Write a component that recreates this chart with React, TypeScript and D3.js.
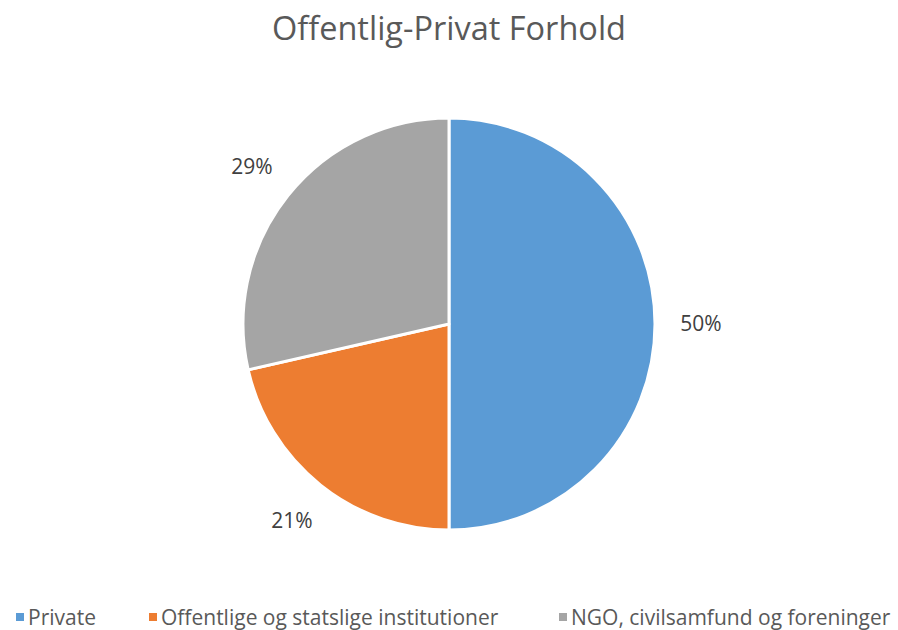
import React, { useEffect, useRef } from 'react';
import * as d3 from 'd3';

const WIDTH = 898;
const HEIGHT = 630;

const TITLE = 'Offentlig-Privat Forhold';
const categories = ['Private', 'Offentlige og statslige institutioner', 'NGO, civilsamfund og foreninger'];
const values = [7, 3, 4];
const colors = ['#5B9BD5', '#ED7D31', '#A5A5A5'];
const legendX = [16, 149, 559];

const FONT = '"Open Sans", sans-serif';

export default function App() {
  const ref = useRef<SVGSVGElement>(null);

  useEffect(() => {
    const svg = d3.select(ref.current);
    svg.selectAll('*').remove();

    const cx = 449;
    const cy = 324;
    const radius = 206;
    const total = d3.sum(values);

    svg.append('text')
      .attr('x', WIDTH / 2)
      .attr('y', 40)
      .attr('text-anchor', 'middle')
      .attr('font-family', FONT)
      .attr('font-size', 32.5)
      .attr('fill', '#595959')
      .text(TITLE);

    const pie = d3.pie<number>().sort(null).value(d => d);
    const arc = d3.arc<d3.PieArcDatum<number>>().innerRadius(0).outerRadius(radius);
    const labelArc = d3.arc<d3.PieArcDatum<number>>().innerRadius(252).outerRadius(252);

    const g = svg.append('g').attr('transform', `translate(${cx},${cy})`);
    const arcs = pie(values);

    g.selectAll('path')
      .data(arcs)
      .enter()
      .append('path')
      .attr('d', arc)
      .attr('fill', (d, i) => colors[i])
      .attr('stroke', 'white')
      .attr('stroke-width', 3)
      .attr('stroke-linejoin', 'round');

    g.selectAll('.lbl')
      .data(arcs)
      .enter()
      .append('text')
      .attr('class', 'lbl')
      .attr('transform', d => `translate(${labelArc.centroid(d)})`)
      .attr('text-anchor', 'middle')
      .attr('dy', '0.35em')
      .attr('font-family', FONT)
      .attr('font-size', 21)
      .attr('fill', '#404040')
      .text(d => `${Math.round((d.value / total) * 100)}%`);

    const legend = svg.append('g');
    categories.forEach((c, i) => {
      legend.append('rect')
        .attr('x', legendX[i])
        .attr('y', 613)
        .attr('width', 8)
        .attr('height', 8)
        .attr('fill', colors[i]);
      legend.append('text')
        .attr('x', legendX[i] + 12)
        .attr('y', 625)
        .attr('font-family', FONT)
        .attr('font-size', 21)
        .attr('fill', '#595959')
        .text(c);
    });
  }, []);

  return (
    <svg ref={ref} width={WIDTH} height={HEIGHT} viewBox={`0 0 ${WIDTH} ${HEIGHT}`}
      style={{ display: 'block', position: 'absolute', left: 0, top: 0, background: 'white' }} />
  );
}
